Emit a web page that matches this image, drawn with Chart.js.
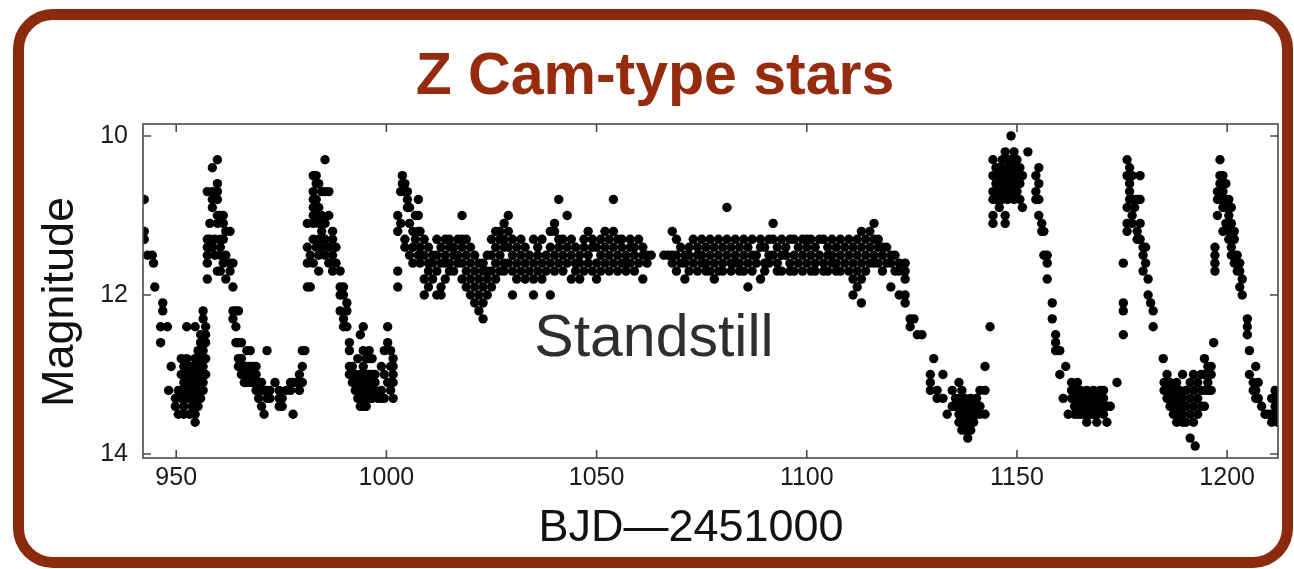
<!DOCTYPE html>
<html>
<head>
<meta charset="utf-8">
<script src="https://cdn.jsdelivr.net/npm/chart.js@4.4.0/dist/chart.umd.min.js"></script>
<style>
  html, body { margin: 0; padding: 0; background: #fff; }
  #wrap { position: relative; width: 1294px; height: 569px; overflow: hidden; font-family: "Liberation Sans", Arial, sans-serif; }
  #frame { position: absolute; left: 13px; top: 9px; width: 1280px; height: 559px; box-sizing: border-box; border: 11px solid #8b2a0c; border-radius: 40px; }
  canvas { position: absolute; left: 0; top: 0; }
  .txt { position: absolute; white-space: nowrap; line-height: 1; }
  #title { left: 655px; top: 45px; transform: translateX(-50%); font-size: 59px; font-weight: bold; color: #962b0d; }
  #ylabel { left: 57px; top: 302px; transform: translate(-50%, -50%) rotate(-90deg); font-size: 45px; color: #111; }
  #xlabel { left: 691px; top: 503px; transform: translateX(-50%); font-size: 45px; color: #111; }
  #note { left: 654px; top: 307px; transform: translateX(-50%); font-size: 59px; color: #2e2e2e; }
</style>
</head>
<body>
<div id="wrap">
  <canvas id="lc" width="1294" height="569"></canvas>
  <div id="frame"></div>
  <div class="txt" id="title">Z Cam-type stars</div>
  <div class="txt" id="ylabel">Magnitude</div>
  <div class="txt" id="xlabel">BJD—2451000</div>
  <div class="txt" id="note">Standstill</div>
</div>
<script>
// axis ticks
const xTicks = [950, 1000, 1050, 1100, 1150, 1200];
const yTicks = [10, 12, 14];

// light curve: [BJD-2451000, [magnitudes seen at that date]]
const fall0 = [
  [942.4, [10.8, 11.2, 11.3]], [943.2, [11.5]], [944.3, [11.5]], [944.6, [11.6]], [944.9, [11.9]],
  [946.3, [12.4, 12.6]], [946.8, [12.1, 12.2]], [947.9, [12.4]], [948.2, [13.2]], [948.8, [12.9]]
];
const quiet1 = [
  [949.8, [13.3, 13.4]], [950.5, [13.2, 13.5]], [951.2, [12.8, 13.0, 13.2, 13.3]],
  [951.8, [12.9, 13.1, 13.4, 13.5]], [952.5, [12.4, 12.8, 13.0, 13.2, 13.3]],
  [953.2, [12.9, 13.1, 13.3, 13.5]], [953.8, [12.9, 13.0, 13.2, 13.4]],
  [954.5, [12.4, 12.8, 13.0, 13.1, 13.3, 13.5, 13.6]], [955.2, [12.7, 12.9, 13.1, 13.2, 13.4]],
  [955.8, [12.5, 12.6, 12.8, 13.0, 13.3]], [956.4, [12.2, 12.3, 12.7, 12.9, 13.1, 13.2]],
  [957.0, [12.4, 12.5, 12.6, 12.8, 13.0]]
];
const peak1 = [
  [957.4, [10.7, 11.3, 11.4, 11.5, 11.6, 11.8]], [958.0, [11.1, 11.3, 11.4]],
  [958.6, [10.4, 10.7, 10.8, 10.9, 11.4]], [959.2, [11.3, 11.5]],
  [959.8, [10.3, 10.6, 10.7, 10.8, 11.0, 11.1, 11.7]], [960.5, [11.0, 11.3, 11.4, 11.5, 11.7]],
  [961.2, [11.0, 11.1, 11.3, 11.6]], [961.8, [11.2, 11.5, 11.8]], [962.8, [11.2, 11.6, 11.7]],
  [963.5, [11.6, 11.9, 12.2, 12.3]], [964.2, [12.2, 12.4, 12.6]], [964.8, [12.2, 12.6, 12.8, 12.9]]
];
const quiet2 = [
  [965.5, [12.6, 12.8, 13.0]], [966.2, [12.9, 13.0, 13.1]], [966.8, [12.7, 12.9, 13.0, 13.1]],
  [967.6, [12.7, 12.9, 13.0, 13.1]], [968.3, [12.9, 13.0, 13.1]], [969.0, [12.9, 13.0, 13.1, 13.2]],
  [969.6, [13.1, 13.3]], [970.3, [13.1, 13.2, 13.4]], [970.9, [13.2, 13.5]], [971.6, [12.7, 13.2, 13.3]],
  [972.3, [13.2, 13.3]], [973.5, [13.1]], [974.5, [13.2, 13.3, 13.4]], [975.2, [13.3, 13.4]],
  [976.2, [13.2]], [977.2, [13.1, 13.2]], [977.8, [13.1, 13.5]], [978.6, [13.1]],
  [979.3, [13.0, 13.1, 13.2]], [980.0, [12.7, 12.9, 13.1]], [980.6, [12.7]]
];
const peak2 = [
  [981.2, [11.1, 11.4, 11.6, 11.9]], [981.9, [11.5, 11.9]],
  [982.6, [10.5, 10.7, 10.8, 10.9, 11.0, 11.1, 11.3, 11.6]], [983.3, [10.5, 10.6, 10.8, 11.0, 11.4]],
  [983.9, [10.6, 10.9, 11.1, 11.3, 11.5, 11.7]], [984.6, [10.7, 11.0, 11.2, 11.4]],
  [985.4, [10.3, 10.7, 11.1, 11.3, 11.5]], [986.3, [10.7, 11.0, 11.4, 11.6]],
  [987.2, [11.2, 11.3, 11.5, 11.7]], [988.0, [11.4, 11.6]], [989.0, [11.7, 11.9, 12.0, 12.2]],
  [989.8, [11.9, 12.0, 12.3, 12.4]], [990.6, [12.1, 12.2, 12.4]]
];
const quiet3 = [
  [991.2, [12.6, 12.7, 12.9, 13.0]], [991.9, [12.9, 13.1]], [992.6, [13.0, 13.1, 13.2]],
  [993.2, [12.8, 13.1, 13.3]], [993.8, [12.5, 13.0, 13.2, 13.3, 13.4]],
  [994.5, [12.4, 12.7, 12.9, 13.1, 13.3, 13.4]], [995.2, [12.8, 13.0, 13.2, 13.4]],
  [995.9, [12.7, 12.8, 13.0, 13.1, 13.3]], [996.6, [12.8, 13.0, 13.2, 13.3]],
  [997.3, [13.0, 13.1, 13.2]], [998.0, [13.3]], [998.8, [12.9, 13.2, 13.3]],
  [999.5, [12.7, 13.0, 13.3]], [1000.3, [12.4, 12.6, 13.1]], [1001.0, [12.7, 12.9, 13.1, 13.2]],
  [1001.6, [12.8, 12.9, 13.0, 13.1, 13.3]]
];
const peak3 = [
  [1002.7, [11.0, 11.2, 11.7, 11.9]], [1003.4, [10.7, 11.1]], [1003.8, [10.5, 10.6]],
  [1004.4, [10.6, 10.7, 11.3, 11.4]], [1005.0, [10.7, 10.8, 10.9]], [1005.5, [10.9, 11.1, 11.5]],
  [1006.3, [11.2, 11.4, 11.6]], [1006.9, [11.0, 11.3]], [1007.6, [10.8, 11.0, 11.2, 11.5]]
];
const standstill = [
  [1008, [11.2, 11.4, 11.6]], [1009, [11.3, 11.5, 11.8, 12.0]], [1010, [11.4, 11.6, 11.7, 11.9]],
  [1011, [11.5, 11.6, 11.8]], [1012, [11.3, 11.5, 11.7, 12.0]], [1013, [11.4, 11.6, 11.9, 12.0]],
  [1014, [11.3, 11.5, 11.6, 11.8]], [1015, [11.3, 11.4, 11.6, 11.7]], [1016, [11.4, 11.5, 11.7]],
  [1017, [11.3, 11.5, 11.6]], [1018, [11.0, 11.3, 11.4, 11.6, 11.8]], [1019, [11.3, 11.5, 11.7, 11.9]],
  [1020, [11.4, 11.6, 11.8, 12.0]], [1021, [11.5, 11.7, 11.9, 12.1]], [1022, [11.6, 11.8, 12.0, 12.2]],
  [1023, [11.6, 11.7, 11.9, 12.1, 12.3]], [1024, [11.5, 11.7, 11.8, 12.0]], [1025, [11.3, 11.5, 11.7, 11.9]],
  [1026, [11.2, 11.4, 11.6, 11.8]], [1027, [11.2, 11.3, 11.5, 11.7]], [1028, [11.1, 11.3, 11.4, 11.6, 11.7]],
  [1029, [11.0, 11.2, 11.4, 11.6]], [1030, [11.3, 11.5, 11.7, 12.0]], [1031, [11.4, 11.6, 11.8]],
  [1032, [11.3, 11.5, 11.7]], [1033, [11.4, 11.6, 11.8]], [1034, [11.5, 11.7]],
  [1035, [11.3, 11.6, 11.8, 12.0]], [1036, [11.4, 11.5, 11.7]], [1037, [11.3, 11.6, 11.8]],
  [1038, [11.5, 11.7]], [1039, [11.2, 11.4, 11.6, 12.0]], [1040, [11.1, 11.2, 11.5, 11.7]],
  [1041, [10.8, 11.3, 11.4, 11.6]], [1042, [11.3, 11.5, 11.7]], [1043, [11.0, 11.4, 11.6]],
  [1044, [11.3, 11.5, 11.8]], [1045, [11.4, 11.6, 11.7]], [1046, [11.5, 11.6, 11.8]],
  [1047, [11.3, 11.4, 11.7]], [1048, [11.2, 11.5, 11.6]], [1049, [11.3, 11.4, 11.7]],
  [1050, [11.4, 11.6, 11.8]], [1051, [11.3, 11.5, 11.7]], [1052, [11.2, 11.4, 11.6]],
  [1053, [11.3, 11.5, 11.7]], [1054, [10.8, 11.2, 11.4, 11.6]], [1055, [11.3, 11.5, 11.7]],
  [1056, [11.3, 11.4, 11.6]], [1057, [11.5, 11.6, 11.7]], [1058, [11.3, 11.4, 11.6]], [1059, [11.4, 11.5, 11.7]],
  [1060, [11.3, 11.6]], [1061, [11.4, 11.5, 11.8]], [1062, [11.5, 11.6]], [1063, [11.5]],
  [1066, [11.5]], [1067, [11.5]], [1068, [11.2, 11.5, 11.6]], [1069, [11.3, 11.5, 11.7]], [1070, [11.4, 11.6]],
  [1071, [11.5, 11.6, 11.8]], [1072, [11.4, 11.5, 11.7]], [1073, [11.3, 11.6]], [1074, [11.4, 11.5, 11.7]],
  [1075, [11.3, 11.5, 11.6]], [1076, [11.4, 11.6, 11.7]], [1077, [11.3, 11.5, 11.7]], [1078, [11.4, 11.6, 11.8]],
  [1079, [11.3, 11.5, 11.7]], [1080, [11.4, 11.6, 11.7]], [1081, [10.9, 11.3, 11.5]], [1082, [11.4, 11.6, 11.7]],
  [1083, [11.3, 11.5, 11.6]], [1084, [11.4, 11.6, 11.7]], [1085, [11.3, 11.5, 11.7]], [1086, [11.4, 11.6, 11.9]],
  [1087, [11.3, 11.5, 11.7]], [1088, [11.5, 11.6]], [1089, [11.3, 11.4, 11.8]], [1090, [11.4, 11.6, 11.7]],
  [1091, [11.3, 11.5, 11.6]], [1092, [11.1, 11.3, 11.5]], [1093, [11.4, 11.6, 11.7]], [1094, [11.3, 11.5, 11.7]],
  [1095, [11.4, 11.5]], [1096, [11.3, 11.6, 11.7]], [1097, [11.3, 11.5, 11.7]], [1098, [11.4, 11.6]],
  [1099, [11.3, 11.5, 11.7]], [1100, [11.3, 11.4, 11.6]], [1101, [11.3, 11.5, 11.7]], [1102, [11.4, 11.6, 11.7]],
  [1103, [11.3, 11.5]], [1104, [11.3, 11.6, 11.7]], [1105, [11.4, 11.5, 11.7]], [1106, [11.3, 11.5, 11.6]],
  [1107, [11.4, 11.6, 11.7]], [1108, [11.3, 11.5, 11.7]], [1109, [11.4, 11.6]], [1110, [11.3, 11.5, 11.7]],
  [1111, [11.4, 11.6, 11.8, 12.0]], [1112, [11.3, 11.5, 11.7, 11.9]], [1113, [11.2, 11.4, 11.6, 11.8, 12.1]],
  [1114, [11.3, 11.5, 11.7]], [1115, [11.2, 11.4, 11.6]], [1116, [11.1, 11.3, 11.5, 11.6]],
  [1117, [11.3, 11.4, 11.6]], [1118, [11.4, 11.5, 11.7]], [1119, [11.4, 11.6]], [1120, [11.5, 11.6, 11.9]],
  [1121, [11.5, 11.7]], [1122, [11.6, 11.7, 12.0]], [1123.4, [11.6, 11.7, 11.8, 12.0, 12.1]]
];
const decline = [
  [1124.6, [12.3, 12.4]], [1125.5, [12.3]], [1126.3, [12.5]], [1127.4, [12.5]],
  [1129.4, [13.0, 13.1, 13.2]], [1130.2, [12.8]], [1131.0, [13.2, 13.3]], [1132.4, [13.0, 13.3]],
  [1133.4, [13.5]], [1134.6, [13.2, 13.4]], [1135.4, [13.3, 13.4]], [1136.2, [13.1, 13.3, 13.5, 13.6]],
  [1136.9, [13.2, 13.4, 13.6, 13.7]], [1137.6, [13.3, 13.4, 13.5, 13.7]], [1138.3, [13.4, 13.5, 13.6, 13.8]],
  [1139.0, [13.3, 13.4, 13.6, 13.7]], [1139.7, [13.4, 13.5, 13.6]], [1140.4, [13.3, 13.5]],
  [1141.2, [13.2, 13.4, 13.5]], [1142.4, [12.9, 13.2, 13.5]], [1143.6, [12.4]]
];
const peak4 = [
  [1144.3, [10.3, 10.5, 10.7, 10.8, 11.0, 11.1]], [1145.0, [10.4, 10.6, 10.8]],
  [1145.8, [10.4, 10.5, 10.7, 10.9]], [1146.5, [10.3, 10.4, 10.6, 10.8]],
  [1147.2, [10.2, 10.5, 10.7, 11.0, 11.1]], [1147.8, [10.3, 10.4, 10.6, 10.8]],
  [1148.6, [10.0, 10.3, 10.5, 10.7]], [1149.3, [10.2, 10.4, 10.6, 10.8]], [1150.0, [10.3, 10.5, 10.7]],
  [1150.7, [10.4, 10.6, 10.8]], [1151.3, [10.5, 10.9]], [1152.6, [10.2]], [1154.5, [10.5, 10.7, 10.8]],
  [1155.2, [10.4, 10.6, 10.8, 11.0]], [1155.9, [11.1, 11.2]], [1156.4, [11.2, 11.5]],
  [1157.2, [11.5, 11.6, 11.8]], [1158.4, [12.1, 12.3]], [1159.2, [12.5, 12.6, 12.7]],
  [1160.2, [12.7, 13.0]], [1161.0, [13.3]], [1161.6, [12.9]], [1162.2, [13.5]]
];
const quiet4 = [
  [1163.0, [13.1, 13.2, 13.3]], [1163.7, [13.2, 13.4, 13.5]], [1164.4, [13.1, 13.3, 13.4, 13.5]],
  [1165.1, [13.2, 13.4, 13.5]], [1165.8, [13.3, 13.4, 13.5]], [1166.6, [13.2, 13.3, 13.5, 13.6]],
  [1167.4, [13.3, 13.4, 13.5]], [1168.2, [13.2, 13.4, 13.5]], [1169.0, [13.3, 13.5, 13.6]],
  [1169.8, [13.2, 13.4]], [1170.6, [13.2, 13.3, 13.5]], [1171.4, [13.4, 13.6]], [1172.2, [13.4]],
  [1173.8, [13.1]]
];
const peak5 = [
  [1175.3, [11.6, 12.1, 12.2, 12.5]], [1176.2, [10.3, 10.5, 10.9, 11.1, 11.2]],
  [1176.8, [10.4, 10.6, 10.7, 10.8]], [1177.4, [10.5, 10.8, 11.0, 11.1]], [1178.0, [10.8, 10.9]],
  [1178.6, [10.8, 11.2, 11.3]], [1179.3, [10.5, 10.8, 11.1, 11.3]], [1180.0, [11.4, 11.5, 11.7]],
  [1180.6, [11.4, 11.6]], [1181.2, [11.8, 12.0]], [1181.8, [12.1]], [1182.4, [12.2, 12.4]]
];
const quiet5 = [
  [1184.8, [12.8]], [1185.0, [13.1, 13.2]], [1185.7, [13.0, 13.2, 13.3]], [1186.4, [13.1, 13.3, 13.4]],
  [1187.2, [13.2, 13.3, 13.5]], [1188.0, [13.1, 13.3, 13.4, 13.6]], [1188.7, [13.2, 13.4, 13.5]],
  [1189.4, [13.0, 13.3, 13.5, 13.6]], [1190.2, [13.2, 13.4, 13.6]], [1191.2, [13.1, 13.3, 13.5, 13.8]],
  [1192.0, [13.0, 13.2, 13.4, 13.6]], [1192.4, [13.9]], [1193.0, [13.1, 13.3, 13.5]],
  [1193.8, [13.0, 13.2, 13.4]], [1194.6, [12.8, 13.0, 13.2, 13.4]], [1195.4, [12.9, 13.1, 13.2]],
  [1196.2, [12.9, 13.0, 13.2]], [1196.8, [12.6]]
];
const peak6 = [
  [1197.1, [11.4, 11.5, 11.6, 11.7]], [1197.7, [10.7, 10.8, 11.0]], [1198.3, [10.3, 10.5, 10.6, 10.8]],
  [1199.0, [10.5, 10.6, 10.7, 10.9, 11.2]], [1199.7, [10.6, 10.8, 10.9, 11.1]],
  [1200.4, [10.8, 11.0, 11.2, 11.3]], [1201.0, [10.9, 11.1, 11.4, 11.5]], [1201.7, [11.2, 11.3, 11.5, 11.6]],
  [1202.4, [11.5, 11.6, 11.7]], [1203.0, [11.6, 11.7, 11.9]], [1203.6, [11.8, 12.0]],
  [1204.8, [12.3, 12.4, 12.5]], [1205.3, [12.7, 13.0]]
];
const quiet6 = [
  [1206.2, [13.1, 13.2]], [1206.8, [12.9, 13.2, 13.3]], [1207.4, [13.1, 13.3]], [1208.2, [13.4]],
  [1209.0, [13.5]], [1209.8, [13.5]], [1210.6, [13.3, 13.5, 13.6]], [1211.4, [13.2, 13.4, 13.5]],
  [1212.0, [13.3, 13.6]]
];

const segments = [fall0, quiet1, peak1, quiet2, peak2, quiet3, peak3, standstill,
  decline, peak4, quiet4, peak5, quiet5, peak6, quiet6];

const points = [];
segments.forEach(seg => {
  seg.forEach(([day, mags]) => {
    mags.forEach(m => points.push({ x: day, y: m }));
  });
});

// box round the plot with inward ticks on all four sides
const boxTicks = {
  id: 'boxTicks',
  afterDatasetsDraw(chart) {
    const { ctx, chartArea: a, scales: { x, y } } = chart;
    const len = 8;
    ctx.save();
    ctx.strokeStyle = '#4a4a4a';
    ctx.lineWidth = 1.6;
    ctx.strokeRect(a.left, a.top, a.right - a.left, a.bottom - a.top);
    ctx.beginPath();
    xTicks.forEach(v => {
      const px = x.getPixelForValue(v);
      ctx.moveTo(px, a.bottom); ctx.lineTo(px, a.bottom - len);
      ctx.moveTo(px, a.top); ctx.lineTo(px, a.top + len);
    });
    yTicks.forEach(v => {
      const py = y.getPixelForValue(v);
      ctx.moveTo(a.left, py); ctx.lineTo(a.left + len, py);
      ctx.moveTo(a.right, py); ctx.lineTo(a.right - len, py);
    });
    ctx.stroke();
    ctx.restore();
  }
};

const tickFont = { family: "'Liberation Sans', Arial, sans-serif", size: 25 };

new Chart(document.getElementById('lc'), {
  type: 'scatter',
  data: {
    datasets: [{
      data: points,
      pointRadius: 4.7,
      pointBackgroundColor: '#000',
      pointBorderWidth: 0,
      pointHoverRadius: 4.7
    }]
  },
  options: {
    responsive: false,
    animation: false,
    layout: { padding: { left: 0, right: 16, top: 124, bottom: 0 } },
    plugins: { legend: { display: false }, tooltip: { enabled: false } },
    scales: {
      x: {
        type: 'linear',
        min: 942.1,
        max: 1212.1,
        grid: { display: false, drawTicks: false },
        border: { display: false },
        ticks: { font: tickFont, color: '#1a1a1a', padding: 5, callback: v => String(v) },
        afterBuildTicks: s => { s.ticks = xTicks.map(v => ({ value: v })); },
        afterFit: s => { s.height = 111; }
      },
      y: {
        reverse: true,
        min: 9.85,
        max: 14.05,
        grid: { display: false, drawTicks: false },
        border: { display: false },
        ticks: { font: tickFont, color: '#1a1a1a', padding: 15, callback: v => String(v) },
        afterBuildTicks: s => { s.ticks = yTicks.map(v => ({ value: v })); },
        afterFit: s => { s.width = 143; }
      }
    }
  },
  plugins: [boxTicks]
});
</script>
</body>
</html>
